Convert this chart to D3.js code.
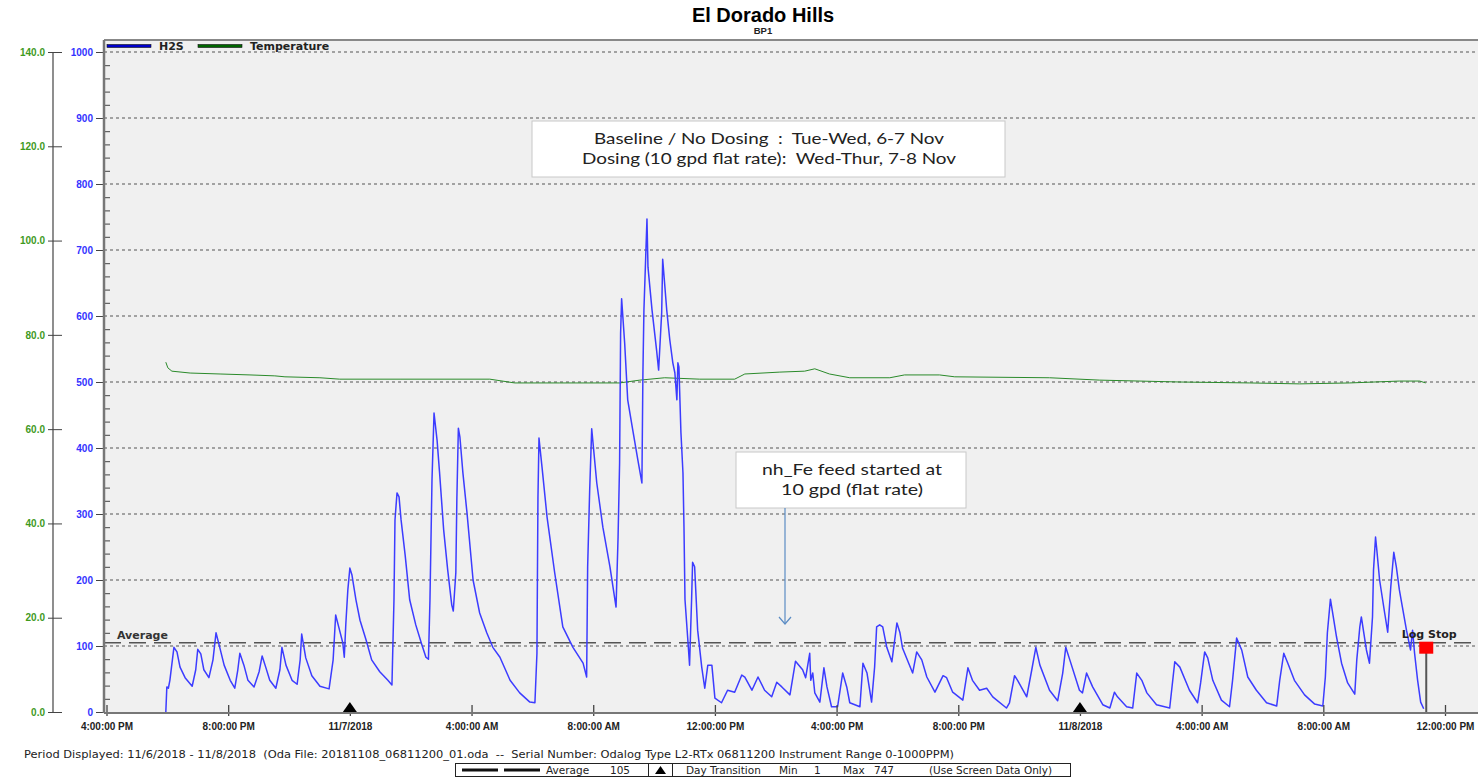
<!DOCTYPE html>
<html>
<head>
<meta charset="utf-8">
<script src="https://cdn.jsdelivr.net/npm/d3@7"></script>
<style>
  body { margin: 0; background: #fff; }
  svg { font-family: "DejaVu Sans", Verdana, sans-serif; }
</style>
</head>
<body>
<div id="container"></div>
<script>
// H2S readings (ppm), time as "month/day hour:minute" in 2018
const h2sTimes = [
  "11/6 17:57","11/6 17:59","11/6 18:02","11/6 18:05","11/6 18:13","11/6 18:19","11/6 18:25","11/6 18:35","11/6 18:49","11/6 18:56",
  "11/6 19:00","11/6 19:06","11/6 19:12","11/6 19:22","11/6 19:30","11/6 19:36","11/6 19:42","11/6 19:52","11/6 20:04","11/6 20:13",
  "11/6 20:19","11/6 20:23","11/6 20:31","11/6 20:39","11/6 20:51","11/6 21:01","11/6 21:07","11/6 21:14","11/6 21:22","11/6 21:34",
  "11/6 21:42","11/6 21:46","11/6 21:54","11/6 22:06","11/6 22:16","11/6 22:22","11/6 22:25","11/6 22:33","11/6 22:45","11/6 23:01",
  "11/6 23:19","11/6 23:27","11/6 23:32","11/6 23:38","11/6 23:46","11/6 23:49","11/6 23:52","11/6 23:56","11/7 00:00","11/7 00:04",
  "11/7 00:12","11/7 00:20","11/7 00:32","11/7 00:43","11/7 00:59","11/7 01:15","11/7 01:23","11/7 01:27","11/7 01:29","11/7 01:33",
  "11/7 01:37","11/7 01:41","11/7 01:49","11/7 01:58","11/7 02:10","11/7 02:22","11/7 02:30","11/7 02:35","11/7 02:38","11/7 02:42",
  "11/7 02:46","11/7 02:52","11/7 02:57","11/7 03:05","11/7 03:13","11/7 03:21","11/7 03:24","11/7 03:29","11/7 03:31","11/7 03:34",
  "11/7 03:37","11/7 03:43","11/7 03:51","11/7 04:03","11/7 04:16","11/7 04:30","11/7 04:42","11/7 04:56","11/7 05:16","11/7 05:35",
  "11/7 05:55","11/7 06:05","11/7 06:09","11/7 06:10","11/7 06:11","11/7 06:13","11/7 06:19","11/7 06:29","11/7 06:44","11/7 07:00",
  "11/7 07:20","11/7 07:40","11/7 07:47","11/7 07:49","11/7 07:53","11/7 07:57","11/7 08:07","11/7 08:19","11/7 08:33","11/7 08:45",
  "11/7 08:49","11/7 08:52","11/7 08:54","11/7 08:56","11/7 09:02","11/7 09:08","11/7 09:18","11/7 09:28","11/7 09:36","11/7 09:38",
  "11/7 09:40","11/7 09:46","11/7 09:48","11/7 09:56","11/7 10:05","11/7 10:09","11/7 10:15","11/7 10:17","11/7 10:25","11/7 10:31",
  "11/7 10:37","11/7 10:41","11/7 10:45","11/7 10:47","11/7 10:49","11/7 10:53","11/7 10:57","11/7 10:59","11/7 11:01","11/7 11:07",
  "11/7 11:10","11/7 11:14","11/7 11:16","11/7 11:20","11/7 11:26","11/7 11:34","11/7 11:40","11/7 11:46","11/7 11:54","11/7 12:00",
  "11/7 12:13","11/7 12:25","11/7 12:39","11/7 12:53","11/7 12:59","11/7 13:13","11/7 13:25","11/7 13:38","11/7 13:52","11/7 14:02",
  "11/7 14:12","11/7 14:28","11/7 14:39","11/7 14:53","11/7 14:59","11/7 15:07","11/7 15:09","11/7 15:13","11/7 15:17","11/7 15:27",
  "11/7 15:35","11/7 15:41","11/7 15:50","11/7 16:02","11/7 16:12","11/7 16:20","11/7 16:26","11/7 16:46","11/7 16:52","11/7 17:00",
  "11/7 17:09","11/7 17:15","11/7 17:19","11/7 17:25","11/7 17:31","11/7 17:39","11/7 17:49","11/7 17:59","11/7 18:05","11/7 18:10",
  "11/7 18:30","11/7 18:38","11/7 18:48","11/7 18:58","11/7 19:14","11/7 19:30","11/7 19:37","11/7 19:49","11/7 20:09","11/7 20:19",
  "11/7 20:28","11/7 20:42","11/7 20:56","11/7 21:08","11/7 21:35","11/7 21:41","11/7 21:51","11/7 21:57","11/7 22:15","11/7 22:25",
  "11/7 22:33","11/7 22:41","11/7 23:00","11/7 23:16","11/7 23:26","11/7 23:32","11/7 23:40","11/7 23:59","11/8 00:05","11/8 00:13",
  "11/8 00:25","11/8 00:45","11/8 00:59","11/8 01:08","11/8 01:14","11/8 01:32","11/8 01:44","11/8 01:52","11/8 02:02","11/8 02:12",
  "11/8 02:31","11/8 02:57","11/8 03:07","11/8 03:17","11/8 03:36","11/8 03:52","11/8 03:58","11/8 04:06","11/8 04:12","11/8 04:22",
  "11/8 04:39","11/8 04:55","11/8 05:01","11/8 05:09","11/8 05:19","11/8 05:31","11/8 05:48","11/8 06:08","11/8 06:28","11/8 06:34",
  "11/8 06:42","11/8 06:50","11/8 07:03","11/8 07:23","11/8 07:43","11/8 07:59","11/8 08:04","11/8 08:08","11/8 08:14","11/8 08:18",
  "11/8 08:26","11/8 08:36","11/8 08:48","11/8 09:02","11/8 09:06","11/8 09:12","11/8 09:15","11/8 09:19","11/8 09:25","11/8 09:31",
  "11/8 09:37","11/8 09:39","11/8 09:43","11/8 09:45","11/8 09:51","11/8 10:01","11/8 10:07","11/8 10:13","11/8 10:19","11/8 10:24",
  "11/8 10:30","11/8 10:36","11/8 10:44","11/8 10:52","11/8 10:56","11/8 11:00","11/8 11:06","11/8 11:12","11/8 11:18"
];
const h2sValues = [
  0,38,36,48,98,91,68,52,39,64,
  95,88,64,52,79,120,102,71,48,36,
  64,89,71,48,38,61,85,68,48,36,
  64,98,71,48,42,79,118,82,55,39,
  35,79,147,129,105,83,133,185,218,208,
  170,139,109,79,61,48,41,170,291,332,
  326,291,238,170,132,102,83,80,170,352,
  453,412,362,276,215,162,153,211,321,430,
  417,362,302,200,150,120,98,83,48,29,
  15,14,89,211,326,415,371,295,211,129,
  98,74,53,220,336,429,347,280,220,159,
  265,377,574,626,559,473,427,382,347,514,
  609,747,674,609,548,518,605,686,609,564,
  529,514,473,529,523,423,362,280,170,105,
  71,170,227,220,124,68,36,71,71,21,
  14,33,30,56,53,33,53,33,23,45,
  38,26,77,64,52,89,48,59,29,15,
  67,38,8,8,59,38,14,8,74,59,
  15,68,129,132,129,98,76,135,120,97,
  59,91,79,53,30,55,52,30,18,67,
  48,33,36,23,6,14,55,48,23,64,
  98,71,33,17,59,98,79,33,29,59,
  38,11,6,30,23,8,6,59,48,29,
  11,6,76,68,33,14,44,91,82,48,
  18,8,48,112,94,53,33,14,9,48,
  89,74,48,26,12,9,53,120,171,152,
  114,74,44,27,79,129,144,124,94,74,
  144,215,265,250,200,150,121,189,242,220,
  185,159,124,94,124,89,48,15,5
];

// temperature readings (deg)
const tempTimes = [
  "11/6 17:57","11/6 18:01","11/6 18:09","11/6 18:45","11/6 19:44","11/6 20:43","11/6 21:32","11/6 21:52","11/6 23:01","11/6 23:40",
  "11/7 01:39","11/7 04:36","11/7 05:25","11/7 06:54","11/7 08:52","11/7 09:32","11/7 10:21","11/7 11:30","11/7 12:39","11/7 12:59",
  "11/7 14:08","11/7 14:57","11/7 15:17","11/7 15:46","11/7 16:26","11/7 17:45","11/7 18:14","11/7 19:23","11/7 19:53","11/7 23:00",
  "11/8 00:39","11/8 03:17","11/8 05:35","11/8 07:13","11/8 08:52","11/8 10:30","11/8 11:10","11/8 11:22"
];
const tempValues = [
  74.2,73.0,72.3,71.9,71.7,71.5,71.3,71.1,70.9,70.6,
  70.6,70.6,69.8,69.8,69.8,70.4,70.9,70.6,70.6,71.7,
  72.1,72.3,72.8,71.7,70.9,70.9,71.5,71.5,71.1,70.9,
  70.4,70.0,69.8,69.6,69.8,70.2,70.2,69.8
];

const h2sTicks = [0, 100, 200, 300, 400, 500, 600, 700, 800, 900, 1000];
const tempTicks = [0, 20, 40, 60, 80, 100, 120, 140];
const dayTransitions = ["11/7 00:00", "11/8 00:00"];
const logStop = "11/8 11:23";
const average = 105;
const minValue = 1;
const maxValue = 747;

const notes = [
  ["Baseline / No Dosing  :  Tue-Wed, 6-7 Nov", "Dosing (10 gpd flat rate):  Wed-Thur, 7-8 Nov"],
  ["nh_Fe feed started at", "10 gpd (flat rate)"]
];
const noteWidths = [[350, 374], [180, 142]];

const parse = d3.timeParse("%Y/%m/%d %H:%M");
const toDate = (s) => parse("2018/" + s);

const h2s = h2sTimes.map((t, i) => ({ t: toDate(t), v: h2sValues[i] }));
const temp = tempTimes.map((t, i) => ({ t: toDate(t), v: tempValues[i] }));

const w = 1478;
const h = 779;
const plotLeft = 104;
const plotTop = 40;
const plotBottom = 712;

const xScale = d3.scaleTime()
    .domain([toDate("11/6 16:00"), toDate("11/8 12:00")])
    .range([106.5, 1445]);

const yScale = d3.scaleLinear().domain([0, 1000]).range([plotBottom, 52]);
const tScale = d3.scaleLinear().domain([0, 140]).range([plotBottom, 52]);

const svg = d3.select('#container')
    .append('svg')
    .attr('width', w)
    .attr('height', h);

// plot background
svg.append('rect')
    .attr('x', plotLeft).attr('y', plotTop)
    .attr('width', w - plotLeft).attr('height', plotBottom - plotTop)
    .attr('fill', '#f0f0f0');
svg.append('line')
    .attr('x1', plotLeft).attr('x2', w)
    .attr('y1', plotTop).attr('y2', plotTop)
    .attr('stroke', '#888').attr('stroke-width', 2);

// title
svg.append('text')
    .attr('x', 763).attr('y', 22)
    .attr('text-anchor', 'middle')
    .style('font-family', '"Liberation Sans", Arial, sans-serif')
    .attr('font-size', 20).attr('font-weight', 'bold')
    .text('El Dorado Hills');
svg.append('text')
    .attr('x', 763).attr('y', 34)
    .attr('text-anchor', 'middle')
    .style('font-family', '"Liberation Sans", Arial, sans-serif')
    .attr('font-size', 9.5).attr('font-weight', 'bold')
    .attr('fill', '#222')
    .text('BP1');

// grid lines
svg.append('g')
    .selectAll('line')
    .data(h2sTicks.filter(d => d > 0))
    .join('line')
    .attr('x1', plotLeft).attr('x2', w)
    .attr('y1', d => yScale(d)).attr('y2', d => yScale(d))
    .attr('stroke', '#555')
    .attr('stroke-dasharray', '3,3');

// average line
svg.append('line')
    .attr('x1', plotLeft).attr('x2', w)
    .attr('y1', yScale(average)).attr('y2', yScale(average))
    .attr('stroke', '#555').attr('stroke-width', 1.5)
    .attr('stroke-dasharray', '17,8');
svg.append('text')
    .attr('x', 117).attr('y', yScale(average) - 4)
    .attr('font-size', 11).attr('font-weight', 'bold')
    .attr('fill', '#333')
    .text('Average');

// temperature line
svg.append('path')
    .datum(temp)
    .attr('fill', 'none')
    .attr('stroke', '#2a8a2a')
    .attr('stroke-width', 1)
    .attr('d', d3.line().x(d => xScale(d.t)).y(d => tScale(d.v)));

// H2S line
svg.append('path')
    .datum(h2s)
    .attr('fill', 'none')
    .attr('stroke', '#3c3cff')
    .attr('stroke-width', 1.5)
    .attr('stroke-linejoin', 'round')
    .attr('d', d3.line().x(d => xScale(d.t)).y(d => yScale(d.v)));

// annotation boxes
const noteFont = 'Lato, sans-serif';
const note1 = svg.append('g');
note1.append('rect')
    .attr('x', 532).attr('y', 121).attr('width', 473).attr('height', 56)
    .attr('fill', '#fff').attr('stroke', '#c8c8c8');
note1.selectAll('text')
    .data(notes[0])
    .join('text')
    .attr('x', 769).attr('y', (d, i) => 144 + i * 20)
    .attr('text-anchor', 'middle')
    .style('font-family', noteFont)
    .style('white-space', 'pre')
    .attr('font-size', 16)
    .attr('textLength', (d, i) => noteWidths[0][i])
    .attr('lengthAdjust', 'spacingAndGlyphs')
    .attr('fill', '#222')
    .text(d => d);

const note2 = svg.append('g');
note2.append('rect')
    .attr('x', 736).attr('y', 452).attr('width', 230).attr('height', 56)
    .attr('fill', '#fff').attr('stroke', '#c8c8c8');
note2.selectAll('text')
    .data(notes[1])
    .join('text')
    .attr('x', 852).attr('y', (d, i) => 475 + i * 20)
    .attr('text-anchor', 'middle')
    .style('font-family', noteFont)
    .attr('font-size', 16)
    .attr('textLength', (d, i) => noteWidths[1][i])
    .attr('lengthAdjust', 'spacingAndGlyphs')
    .attr('fill', '#222')
    .text(d => d);

// arrow from the feed note
svg.append('line')
    .attr('x1', 785).attr('x2', 785)
    .attr('y1', 508).attr('y2', 624)
    .attr('stroke', '#5b8cc4').attr('stroke-width', 1.2);
svg.append('path')
    .attr('d', 'M779,617 L785,624 L791,617')
    .attr('fill', 'none')
    .attr('stroke', '#5b8cc4').attr('stroke-width', 1.2);

// legend at top
const legend = svg.append('g').attr('font-size', 11).attr('font-weight', 'bold');
[['H2S', '#0000cc', 107], ['Temperature', '#006600', 198]].forEach(([name, color, lx]) => {
    legend.append('rect')
        .attr('x', lx).attr('y', 44.5).attr('width', 44).attr('height', 3)
        .attr('fill', color).attr('stroke', '#111').attr('stroke-width', 0.6);
    legend.append('text')
        .attr('x', lx + 52).attr('y', 50)
        .attr('fill', '#222')
        .text(name);
});

// H2S axis
const yAxis = d3.axisLeft(yScale)
    .tickValues(h2sTicks)
    .tickSize(8)
    .tickSizeOuter(0)
    .tickFormat(d3.format('d'));
const yAxisG = svg.append('g')
    .attr('transform', `translate(${plotLeft}, 0)`)
    .call(yAxis);
yAxisG.select('.domain').remove();
yAxisG.selectAll('line').attr('stroke', '#444');
yAxisG.selectAll('text')
    .attr('fill', '#3333ff')
    .attr('font-size', 10)
    .attr('font-weight', 'bold')
    .attr('font-family', null);

// minor ticks inside the plot
const minorAxis = d3.axisRight(yScale)
    .tickValues(d3.range(20, 1000, 20).filter(d => d % 100 !== 0))
    .tickSize(6)
    .tickFormat('');
const minorG = svg.append('g')
    .attr('transform', `translate(${plotLeft}, 0)`)
    .call(minorAxis);
minorG.select('.domain').remove();
minorG.selectAll('line').attr('stroke', '#444');

svg.append('line')
    .attr('x1', plotLeft).attr('x2', plotLeft)
    .attr('y1', plotTop).attr('y2', plotBottom + 1)
    .attr('stroke', '#777').attr('stroke-width', 2.5);

// temperature axis
const tAxis = d3.axisLeft(tScale)
    .tickValues(tempTicks)
    .tickSize(5)
    .tickSizeOuter(0)
    .tickFormat(d3.format('.1f'));
const tAxisG = svg.append('g')
    .attr('transform', 'translate(53, 0)')
    .call(tAxis);
tAxisG.select('.domain').remove();
tAxisG.selectAll('line').attr('x1', 9).attr('stroke', '#444');
tAxisG.selectAll('text')
    .attr('fill', '#3f9a1e')
    .attr('font-size', 10)
    .attr('font-weight', 'bold')
    .attr('font-family', null);
svg.append('line')
    .attr('x1', 53).attr('x2', 53)
    .attr('y1', tScale(140)).attr('y2', tScale(0))
    .attr('stroke', '#444').attr('stroke-width', 1.2);

// x axis
const xFormat = (d) => d.getHours() === 0 ? d3.timeFormat('%-m/%-d/%Y')(d) : d3.timeFormat('%-I:%M:%S %p')(d);
const xAxis = d3.axisBottom(xScale)
    .ticks(d3.timeHour.every(4))
    .tickSize(5)
    .tickSizeOuter(0)
    .tickFormat(xFormat);
const xAxisG = svg.append('g')
    .attr('transform', `translate(0, ${plotBottom})`)
    .call(xAxis);
xAxisG.select('.domain').remove();
xAxisG.selectAll('line').attr('y1', -7).attr('y2', 4).attr('stroke', '#444').attr('stroke-width', 1.3);
xAxisG.selectAll('text')
    .attr('y', 11)
    .attr('fill', '#222')
    .attr('font-size', 10)
    .attr('font-weight', 'bold')
    .attr('font-family', null);
svg.append('line')
    .attr('x1', plotLeft).attr('x2', w)
    .attr('y1', plotBottom + 1).attr('y2', plotBottom + 1)
    .attr('stroke', '#777').attr('stroke-width', 2);

// day transition markers
svg.append('g')
    .selectAll('path')
    .data(dayTransitions.map(toDate))
    .join('path')
    .attr('transform', d => `translate(${xScale(d)}, ${plotBottom})`)
    .attr('d', 'M-7,0 L0,-10 L7,0 Z')
    .attr('fill', '#000');

// log stop marker
const ls = xScale(toDate(logStop));
svg.append('line')
    .attr('x1', ls).attr('x2', ls)
    .attr('y1', yScale(average) + 8).attr('y2', plotBottom)
    .attr('stroke', '#555').attr('stroke-width', 2);
svg.append('rect')
    .attr('x', ls - 7).attr('y', yScale(average) - 1)
    .attr('width', 14).attr('height', 12)
    .attr('fill', '#ff0000');
svg.append('text')
    .attr('x', ls + 3).attr('y', yScale(average) - 5)
    .attr('text-anchor', 'middle')
    .attr('font-size', 11).attr('font-weight', 'bold')
    .attr('fill', '#222')
    .text('Log Stop');

// footer
svg.append('text')
    .attr('x', 24).attr('y', 758)
    .attr('font-size', 10.5)
    .attr('fill', '#222')
    .attr('textLength', 930)
    .attr('lengthAdjust', 'spacingAndGlyphs')
    .style('white-space', 'pre')
    .text('Period Displayed: 11/6/2018 - 11/8/2018  (Oda File: 20181108_06811200_01.oda  --  Serial Number: Odalog Type L2-RTx 06811200 Instrument Range 0-1000PPM)');

const foot = svg.append('g').attr('font-size', 10.5).attr('fill', '#222');
foot.append('rect')
    .attr('x', 455.5).attr('y', 763.5).attr('width', 615).attr('height', 13)
    .attr('fill', '#fff').attr('stroke', '#222');
foot.append('line').attr('x1', 462).attr('x2', 498).attr('y1', 770).attr('y2', 770).attr('stroke', '#111').attr('stroke-width', 3);
foot.append('line').attr('x1', 504).attr('x2', 540).attr('y1', 770).attr('y2', 770).attr('stroke', '#111').attr('stroke-width', 3);
foot.append('text').attr('x', 546).attr('y', 774).text('Average');
foot.append('text').attr('x', 610).attr('y', 774).text(average);
foot.append('rect').attr('x', 648.5).attr('y', 763.5).attr('width', 24).attr('height', 13).attr('fill', '#fff').attr('stroke', '#222');
foot.append('path').attr('d', 'M655,774 L660.5,766 L666,774 Z').attr('fill', '#000');
foot.append('text').attr('x', 686).attr('y', 774).text('Day Transition');
foot.append('text').attr('x', 779).attr('y', 774).text('Min');
foot.append('text').attr('x', 814).attr('y', 774).text(minValue);
foot.append('text').attr('x', 843).attr('y', 774).text('Max');
foot.append('text').attr('x', 874).attr('y', 774).text(maxValue);
foot.append('text').attr('x', 929).attr('y', 774).text('(Use Screen Data Only)');
</script>
</body>
</html>
